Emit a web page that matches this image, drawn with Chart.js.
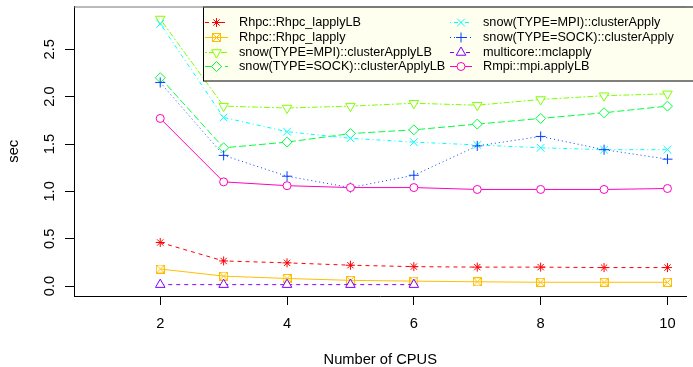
<!DOCTYPE html>
<html>
<head>
<meta charset="utf-8">
<script src="https://cdn.jsdelivr.net/npm/chart.js@4/dist/chart.umd.min.js"></script>
<style>
  html, body { margin: 0; padding: 0; background: #fff; }
</style>
</head>
<body>
<canvas id="myChart" width="693" height="367"></canvas>
<script>
// dati
const cpus = [2, 3, 4, 5, 6, 7, 8, 9, 10];
const mcCpus = [2, 3, 4, 5, 6];
const rhpcLapplyLB = [0.46, 0.265, 0.245, 0.22, 0.205, 0.20, 0.20, 0.195, 0.195];
const rhpcLapply = [0.18, 0.105, 0.08, 0.06, 0.052, 0.045, 0.04, 0.04, 0.04];
const snowMpiLB = [2.82, 1.90, 1.88, 1.90, 1.93, 1.91, 1.97, 2.01, 2.03];
const snowSockLB = [2.20, 1.46, 1.52, 1.61, 1.65, 1.71, 1.77, 1.83, 1.90];
const snowMpi = [2.77, 1.78, 1.63, 1.56, 1.52, 1.49, 1.46, 1.44, 1.44];
const snowSock = [2.15, 1.38, 1.16, 1.04, 1.17, 1.48, 1.58, 1.44, 1.34];
const mclapply = [0.015, 0.015, 0.015, 0.015, 0.015];
const rmpi = [1.77, 1.10, 1.06, 1.04, 1.04, 1.02, 1.02, 1.02, 1.03];

const labels = ['Rhpc::Rhpc_lapplyLB', 'Rhpc::Rhpc_lapply', 'snow(TYPE=MPI)::clusterApplyLB',
  'snow(TYPE=SOCK)::clusterApplyLB', 'snow(TYPE=MPI)::clusterApply', 'snow(TYPE=SOCK)::clusterApply',
  'multicore::mclapply', 'Rmpi::mpi.applyLB'];
const xTicks = [2, 4, 6, 8, 10];
const yTicks = [0, 0.5, 1, 1.5, 2, 2.5];
const yTickLabels = ['0.0', '0.5', '1.0', '1.5', '2.0', '2.5'];

// colori rainbow(8) di R
const colors = ['#FF0000', '#FFBF00', '#80FF00', '#00FF40', '#00FFFF', '#0040FF', '#8000FF', '#FF00BF'];
const dashes = [[4, 4], [], [2, 2, 6, 2], [7, 3], [1, 3, 4, 3], [1, 3], [4, 4], []];

// pch 7: quadrato con la x
function squareX(color) {
  const c = document.createElement('canvas');
  c.width = 9; c.height = 9;
  const g = c.getContext('2d');
  g.strokeStyle = color;
  g.lineWidth = 1;
  g.strokeRect(0.5, 0.5, 8, 8);
  g.beginPath();
  g.moveTo(1, 1); g.lineTo(8, 8);
  g.moveTo(8, 1); g.lineTo(1, 8);
  g.stroke();
  return c;
}

const markers = [
  { pointStyle: 'star', radius: 4.5, rotation: 0, fill: false },
  { pointStyle: squareX(colors[1]), radius: 4.5, rotation: 0, fill: false },
  { pointStyle: 'triangle', radius: 5.5, rotation: 180, fill: true },
  { pointStyle: 'rectRot', radius: 5, rotation: 0, fill: true },
  { pointStyle: 'crossRot', radius: 5.5, rotation: 0, fill: false },
  { pointStyle: 'cross', radius: 5, rotation: 0, fill: false },
  { pointStyle: 'triangle', radius: 5.5, rotation: 0, fill: true },
  { pointStyle: 'circle', radius: 4, rotation: 0, fill: true }
];

const seriesX = [cpus, cpus, cpus, cpus, cpus, cpus, mcCpus, cpus];
const seriesY = [rhpcLapplyLB, rhpcLapply, snowMpiLB, snowSockLB, snowMpi, snowSock, mclapply, rmpi];

const datasets = seriesY.map((vals, i) => ({
  label: labels[i],
  data: vals.map((v, j) => ({ x: seriesX[i][j], y: v })),
  borderColor: colors[i],
  borderWidth: 1,
  borderDash: dashes[i],
  pointStyle: markers[i].pointStyle,
  pointRadius: markers[i].radius,
  pointRotation: markers[i].rotation,
  pointBorderColor: colors[i],
  pointBackgroundColor: markers[i].fill ? '#ffffff' : 'rgba(0,0,0,0)',
  pointBorderWidth: 1,
  tension: 0,
  fill: false,
  order: 7 - i
}));

const axisFont = { family: 'Liberation Sans, Arial, sans-serif', size: 14.7, lineHeight: 1 };
const legendFont = '12.7px "Liberation Sans", Arial, sans-serif';

// box, etichette asse y ruotate e titolo "sec"
const rStyle = {
  id: 'rStyle',
  afterDraw(chart) {
    const ctx = chart.ctx;
    const a = chart.chartArea;
    const y = chart.scales.y;
    ctx.save();
    ctx.strokeStyle = '#777';
    ctx.lineWidth = 1;
    ctx.beginPath();
    ctx.moveTo(a.left, a.top + 0.5);
    ctx.lineTo(a.right, a.top + 0.5);
    ctx.stroke();
    ctx.fillStyle = '#000';
    ctx.font = '14.7px "Liberation Sans", Arial, sans-serif';
    ctx.textAlign = 'center';
    ctx.textBaseline = 'alphabetic';
    yTicks.forEach((v, i) => {
      ctx.save();
      ctx.translate(54, y.getPixelForValue(v));
      ctx.rotate(-Math.PI / 2);
      ctx.fillText(yTickLabels[i], 0, 0);
      ctx.restore();
    });
    ctx.save();
    ctx.translate(18, (a.top + a.bottom) / 2);
    ctx.rotate(-Math.PI / 2);
    ctx.fillText('sec', 0, 0);
    ctx.restore();
    ctx.restore();
  }
};

// legenda in alto a destra come in R
const rLegend = {
  id: 'rLegend',
  afterDatasetsDraw(chart) {
    const ctx = chart.ctx;
    const top = chart.chartArea.top;
    ctx.save();
    ctx.fillStyle = '#FFFFF0';
    ctx.fillRect(203.5, top + 0.5, 600, 74);
    ctx.strokeStyle = '#000';
    ctx.lineWidth = 1;
    ctx.strokeRect(203.5, top + 0.5, 600, 74);
    ctx.font = legendFont;
    ctx.textBaseline = 'middle';
    ctx.textAlign = 'left';
    labels.forEach((lab, i) => {
      const col = i < 4 ? 0 : 1;
      const row = i % 4;
      const yy = Math.round(top + 15.5 + 14.8 * row) + 0.5;
      const x1 = col ? 450 : 205;
      const x2 = col ? 472 : 228;
      ctx.strokeStyle = colors[i];
      ctx.setLineDash(dashes[i]);
      ctx.beginPath();
      ctx.moveTo(x1, yy);
      ctx.lineTo(x2, yy);
      ctx.stroke();
      ctx.setLineDash([]);
      ctx.fillStyle = markers[i].fill ? '#FFFFF0' : 'rgba(0,0,0,0)';
      Chart.helpers.drawPoint(ctx, {
        pointStyle: markers[i].pointStyle,
        radius: markers[i].radius,
        rotation: markers[i].rotation,
        borderWidth: 1
      }, (x1 + x2) / 2, yy);
      ctx.fillStyle = '#000';
      ctx.fillText(lab, col ? 483 : 239, yy);
    });
    ctx.restore();
  }
};

const ctx = document.getElementById('myChart').getContext('2d');
const myChart = new Chart(ctx, {
  type: 'line',
  data: { datasets: datasets },
  options: {
    responsive: false,
    animation: false,
    layout: { padding: { top: 5, left: 0, right: 0, bottom: 0 } },
    plugins: { legend: { display: false }, tooltip: { enabled: false } },
    scales: {
      x: {
        type: 'linear',
        min: 0.64,
        max: 10.3,
        afterBuildTicks: s => { s.ticks = xTicks.map(v => ({ value: v })); },
        afterFit: s => { s.height = 71; },
        grid: { drawOnChartArea: false, drawTicks: true, tickLength: 9, color: '#000' },
        border: { color: '#000' },
        ticks: { color: '#000', font: axisFont, padding: 12, maxRotation: 0, autoSkip: false },
        title: { display: true, text: 'Number of CPUS', color: '#000', font: axisFont, padding: { top: 0, bottom: 0 } }
      },
      y: {
        type: 'linear',
        min: -0.105,
        max: 2.952,
        afterBuildTicks: s => { s.ticks = yTicks.map(v => ({ value: v })); },
        afterFit: s => { s.width = 74; },
        grid: { drawOnChartArea: false, drawTicks: true, tickLength: 9, color: '#000' },
        border: { color: '#000' },
        ticks: { display: false }
      }
    }
  },
  plugins: [rLegend, rStyle]
});
</script>
</body>
</html>
